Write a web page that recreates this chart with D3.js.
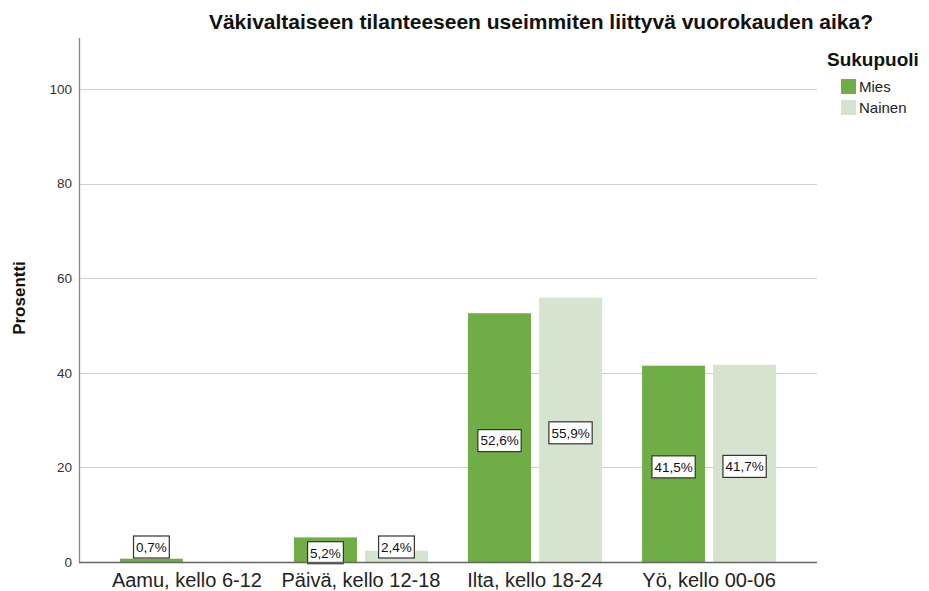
<!DOCTYPE html>
<html>
<head>
<meta charset="utf-8">
<script src="https://cdn.jsdelivr.net/npm/d3@7"></script>
<style>
  body { margin: 0; background: #fff; }
  text { font-family: "Liberation Sans", Arial, sans-serif; }
</style>
</head>
<body>
<svg width="929" height="591"></svg>
<script>
const categories = ['Aamu, kello 6-12', 'Päivä, kello 12-18', 'Ilta, kello 18-24', 'Yö, kello 00-06']
const series = ['Mies', 'Nainen']
const mies = [0.7, 5.2, 52.6, 41.5]
const nainen = [null, 2.4, 55.9, 41.7]
const yTicks = [0, 20, 40, 60, 80, 100]
const colors = ['#70ad47', '#d6e3cf']

const svg = d3.select('svg')
const plotL = 79, plotR = 817, plotT = 38, plotB = 562

// 0 sits on the baseline, 100 at about y=89
const yScale = d3.scaleLinear()
    .domain([0, 110.8])
    .range([plotB, plotT])

const xScale = d3.scaleBand()
    .domain(categories)
    .range([plotL, plotR])
    .paddingOuter(0.12)

const x1Scale = d3.scaleBand()
    .domain(series)
    .range([0, xScale.bandwidth()])
    .paddingInner(0.113)
    .paddingOuter(0.282)

const colorScale = d3.scaleOrdinal(series, colors)

// gridlines
svg.append('g')
    .selectAll('line')
    .data(yTicks.filter(d => d > 0))
    .join('line')
    .attr('x1', plotL)
    .attr('x2', plotR)
    .attr('y1', d => Math.round(yScale(d)) + 0.5)
    .attr('y2', d => Math.round(yScale(d)) + 0.5)
    .attr('stroke', '#cfcfcf')
    .attr('stroke-width', 1.2)

// y tick labels
svg.append('g')
    .selectAll('text')
    .data(yTicks)
    .join('text')
    .attr('x', 72)
    .attr('y', d => yScale(d))
    .attr('dy', '0.35em')
    .attr('text-anchor', 'end')
    .attr('font-size', 13.5)
    .attr('fill', '#333')
    .text(d => d)

// bars
const rows = categories.map((c, i) => ({ cat: c, vals: [mies[i], nainen[i]] }))

const groups = svg.append('g')
    .selectAll('g')
    .data(rows)
    .join('g')
    .attr('transform', d => `translate(${xScale(d.cat)},0)`)

groups.selectAll('rect')
    .data(d => series.map((s, j) => ({ s: s, v: d.vals[j] })).filter(e => e.v != null))
    .join('rect')
    .attr('x', d => x1Scale(d.s))
    .attr('width', x1Scale.bandwidth())
    .attr('y', d => yScale(d.v))
    .attr('height', d => yScale(0) - yScale(d.v))
    .attr('fill', d => colorScale(d.s))

// axis lines
svg.append('line')
    .attr('x1', plotL + 0.5).attr('x2', plotL + 0.5)
    .attr('y1', plotT).attr('y2', plotB)
    .attr('stroke', '#888').attr('stroke-width', 1.3)
svg.append('line')
    .attr('x1', plotL).attr('x2', plotR)
    .attr('y1', plotB + 0.5).attr('y2', plotB + 0.5)
    .attr('stroke', '#666').attr('stroke-width', 1.3)

// value labels
const fmt = v => d3.format('.1f')(v).replace('.', ',') + '%'
const labels = groups.selectAll('g.lab')
    .data(d => series.map((s, j) => ({ s: s, v: d.vals[j] })).filter(e => e.v != null))
    .join('g')
    .attr('class', 'lab')
    .attr('transform', d => {
        const cx = x1Scale(d.s) + x1Scale.bandwidth() / 2
        const h = yScale(0) - yScale(d.v)
        const cy = h < 22 ? plotB - 15 : yScale(d.v / 2) + 3
        return `translate(${cx},${cy})`
    })

labels.append('text')
    .attr('text-anchor', 'middle')
    .attr('dy', '0.36em')
    .attr('font-size', 13.5)
    .attr('fill', '#111')
    .text(d => fmt(d.v))

labels.insert('rect', 'text')
    .each(function () {
        const t = d3.select(this.parentNode).select('text').node().getBBox()
        d3.select(this)
            .attr('x', t.x - 2.5)
            .attr('y', -11)
            .attr('width', t.width + 5)
            .attr('height', 22)
    })
    .attr('fill', '#fff')
    .attr('stroke', '#333')
    .attr('stroke-width', 1.2)

// x labels
svg.append('g')
    .selectAll('text')
    .data(categories)
    .join('text')
    .attr('x', d => xScale(d) + xScale.bandwidth() / 2)
    .attr('y', 587)
    .attr('text-anchor', 'middle')
    .attr('font-size', 20)
    .attr('fill', '#222')
    .text(d => d)

// title
svg.append('text')
    .attr('x', 541)
    .attr('y', 29)
    .attr('text-anchor', 'middle')
    .attr('font-size', 21)
    .attr('font-weight', 'bold')
    .attr('fill', '#111')
    .text('Väkivaltaiseen tilanteeseen useimmiten liittyvä vuorokauden aika?')

// y label
svg.append('text')
    .attr('transform', 'translate(25,298) rotate(-90)')
    .attr('text-anchor', 'middle')
    .attr('font-size', 17)
    .attr('font-weight', 'bold')
    .attr('fill', '#111')
    .text('Prosentti')

// legend
const legend = svg.append('g')
legend.append('text')
    .attr('x', 827)
    .attr('y', 66)
    .attr('font-size', 19)
    .attr('font-weight', 'bold')
    .attr('fill', '#111')
    .text('Sukupuoli')

const items = legend.selectAll('g.item')
    .data(series)
    .join('g')
    .attr('class', 'item')
    .attr('transform', (d, i) => `translate(841,${79 + i * 21})`)
items.append('rect')
    .attr('width', 15)
    .attr('height', 15)
    .attr('fill', d => colorScale(d))
items.append('text')
    .attr('x', 18)
    .attr('y', 13)
    .attr('font-size', 15)
    .attr('fill', '#222')
    .text(d => d)
</script>
</body>
</html>
